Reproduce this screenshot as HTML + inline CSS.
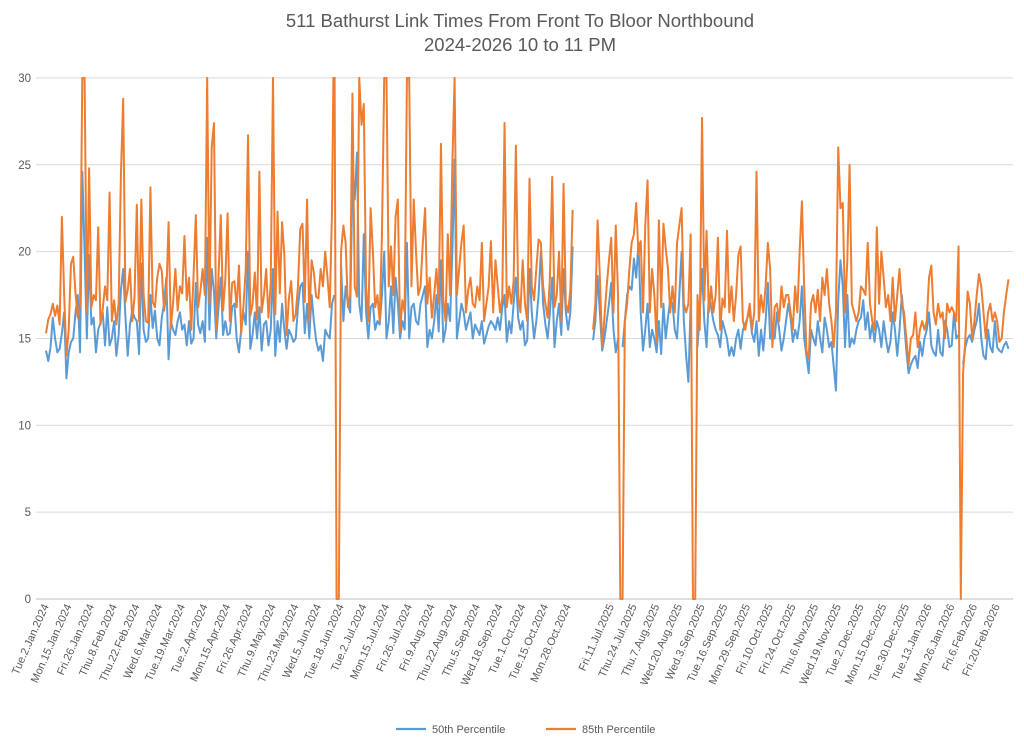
<!DOCTYPE html>
<html><head><meta charset="utf-8">
<style>
body{margin:0;background:#fff;}
svg{display:block;font-family:"Liberation Sans",sans-serif;}
</style></head>
<body>
<svg id="chart" width="1024" height="743" viewBox="0 0 1024 743">
<text x="520" y="27" text-anchor="middle" font-size="18.5" fill="#595959">511 Bathurst Link Times From Front To Bloor Northbound</text>
<text x="520" y="51" text-anchor="middle" font-size="18.5" fill="#595959">2024-2026 10 to 11 PM</text>
<defs><clipPath id="plotclip"><rect x="36" y="77" width="980" height="530"/></clipPath></defs>
<g id="grid"></g><g id="yticks"></g><g id="xticks"></g>
<g id="series" clip-path="url(#plotclip)"></g>
<g>
<line x1="396" y1="729" x2="426" y2="729" stroke="#5B9BD5" stroke-width="2.2"/>
<text x="432" y="733" font-size="11" fill="#595959">50th Percentile</text>
<line x1="546" y1="729" x2="576" y2="729" stroke="#ED7D31" stroke-width="2.2"/>
<text x="582" y="733" font-size="11" fill="#595959">85th Percentile</text>
</g>
</svg>
<script>
const yTicks=[0,5,10,15,20,25,30];
const labels2024=["Tue.2.Jan.2024","Mon.15.Jan.2024","Fri.26.Jan.2024","Thu.8.Feb.2024","Thu.22.Feb.2024","Wed.6.Mar.2024","Tue.19.Mar.2024","Tue.2.Apr.2024","Mon.15.Apr.2024","Fri.26.Apr.2024","Thu.9.May.2024","Thu.23.May.2024","Wed.5.Jun.2024","Tue.18.Jun.2024","Tue.2.Jul.2024","Mon.15.Jul.2024","Fri.26.Jul.2024","Fri.9.Aug.2024","Thu.22.Aug.2024","Thu.5.Sep.2024","Wed.18.Sep.2024","Tue.1.Oct.2024","Tue.15.Oct.2024","Mon.28.Oct.2024"];
const labels2025=["Fri.11.Jul.2025","Thu.24.Jul.2025","Thu.7.Aug.2025","Wed.20.Aug.2025","Wed.3.Sep.2025","Tue.16.Sep.2025","Mon.29.Sep.2025","Fri.10.Oct.2025","Fri.24.Oct.2025","Thu.6.Nov.2025","Wed.19.Nov.2025","Tue.2.Dec.2025","Mon.15.Dec.2025","Tue.30.Dec.2025","Tue.13.Jan.2026","Mon.26.Jan.2026","Fri.6.Feb.2026","Fri.20.Feb.2026"];
const p85_2024=[15.3,16.1,16.4,17.0,16.3,16.9,15.8,22.0,17.5,14.0,
15.5,19.3,19.7,17.6,16.2,17.0,30,30,16.5,24.8,
16.8,17.5,17.2,21.4,15.8,16.7,18.0,17.2,23.4,16.0,
17.2,15.8,17.0,24.4,28.8,17.1,17.8,19.0,16.0,17.4,
22.7,16.0,23.0,17.5,16.0,15.9,23.7,17.1,16.8,18.5,
19.3,18.9,16.6,17.5,21.7,15.6,17.1,19.0,16.6,18.0,
17.6,20.9,17.2,18.5,15.5,18.6,22.1,16.8,17.7,19.0,
17.5,30,17.0,26.0,27.4,15.5,18.6,22.1,16.6,18.4,
22.2,16.0,18.2,18.3,16.8,19.2,15.3,16.9,19.0,26.7,
16.3,17.0,18.8,16.1,24.6,16.5,17.5,19.0,16.2,18.2,
30,16.4,22.3,17.6,21.7,19.8,15.2,17.3,18.3,16.0,
16.4,18.0,21.3,21.6,17.1,23.0,16.0,19.5,18.8,17.4,
17.3,19.0,18.0,20.0,18.5,16.8,22.4,35,0,0,
20.0,21.5,20.5,16.8,17.5,29.1,18.0,17.4,30,27.3,
28.5,18.0,16.0,22.5,20.0,16.8,17.5,16.0,21.0,30,
30,18.0,20.3,17.5,22.0,23.0,15.4,17.2,16.5,30,
30,18.0,23.0,20.0,17.5,18.0,20.5,22.5,17.0,18.5,
16.2,17.5,19.0,17.0,26.2,17.3,16.0,21.0,17.5,25.0,
30,17.5,19.0,20.5,21.5,16.5,17.8,18.5,17.0,16.8,
18.0,17.2,20.5,16.0,17.0,18.0,20.6,16.5,19.5,18.0,
16.5,17.3,27.4,16.8,18.0,17.0,18.3,26.1,17.5,16.5,
19.5,17.0,16.0,24.2,18.0,17.2,19.0,20.7,20.5,18.0,
17.0,16.2,18.5,24.3,16.8,17.5,20.0,16.0,23.9,17.0,
16.5,17.8,22.4];
const p50_2024=[14.3,13.7,14.5,16.2,15.0,14.2,14.4,15.3,16.5,12.7,
14.2,14.8,15.0,16.5,17.5,14.2,24.6,20.0,15.0,19.8,
15.8,16.2,14.2,15.5,15.9,16.5,14.6,16.8,14.6,15.0,
16.0,14.0,15.2,17.8,19.0,16.2,14.0,15.8,16.6,16.2,
16.0,14.1,19.3,15.5,14.8,15.0,17.5,15.6,16.6,15.0,
14.6,16.2,17.0,18.5,13.8,16.0,15.5,15.2,16.0,16.5,
15.5,15.8,14.6,16.0,14.7,15.0,18.2,15.8,15.3,16.0,
14.8,20.8,15.5,19.0,17.7,15.0,16.8,18.5,15.2,16.0,
15.2,15.3,16.8,17.0,15.0,14.2,15.5,16.5,15.8,20.0,
14.4,15.2,16.5,15.0,16.8,14.3,15.8,16.0,14.6,15.5,
19.0,14.0,16.0,14.8,17.0,15.5,14.4,15.5,15.2,14.8,
15.0,16.8,18.0,18.2,15.3,17.0,15.0,17.5,16.0,14.9,
14.3,14.6,13.7,15.5,15.2,15.0,17.0,17.5,null,null,
19.2,16.0,18.0,17.0,16.5,24.0,23.0,25.7,17.0,16.0,
21.0,16.5,15.0,16.8,17.0,15.5,16.0,15.8,17.5,20.0,
15.0,16.0,18.0,15.3,18.5,17.0,15.0,16.0,15.5,20.5,
15.0,16.8,17.0,16.0,15.8,17.0,17.5,18.0,14.5,15.5,
15.0,16.0,17.5,15.4,19.5,14.8,15.5,17.0,16.0,20.0,
25.3,15.0,16.0,17.0,16.5,15.5,16.0,16.5,15.0,15.8,
15.5,15.2,16.0,14.7,15.2,15.7,16.0,15.8,15.5,16.2,
15.5,16.8,17.5,14.8,16.0,15.3,17.0,18.5,16.2,15.5,
16.0,14.6,14.9,19.0,16.5,15.0,16.0,17.5,20.0,17.0,
15.8,15.0,16.5,18.5,14.5,16.0,17.0,15.2,19.0,16.5,
15.5,16.5,20.3];
const gapCount=8;
const p85_2025=[15.5,17.0,21.8,18.5,14.5,16.2,18.0,19.5,20.8,16.5,
21.5,17.5,0,0,16.0,17.0,19.0,20.5,21.0,22.8,
19.8,20.6,16.5,21.5,24.1,16.5,19.0,17.5,14.8,21.8,
16.8,21.6,20.2,19.0,16.5,18.0,16.5,20.5,21.5,22.5,
17.0,16.5,17.0,21.0,0,0,17.5,15.5,27.7,17.2,
21.2,16.5,18.0,16.5,17.5,20.8,15.5,17.3,16.8,21.2,
16.5,18.0,16.0,17.5,19.8,20.3,16.0,15.5,16.2,17.0,
15.5,16.5,24.6,16.0,17.5,16.5,18.0,20.5,19.0,14.5,
16.8,17.0,16.0,18.0,16.8,17.5,17.5,16.5,15.5,18.0,
16.5,20.0,22.9,18.0,14.3,13.8,17.0,17.5,16.5,17.8,
16.0,18.5,17.5,19.0,17.0,16.0,14.5,16.5,26.0,22.5,
22.8,16.5,19.5,25.0,17.0,16.5,16.0,16.5,18.0,17.8,
17.5,20.5,17.0,16.0,15.5,21.4,17.0,20.0,18.5,16.8,
17.5,16.0,18.5,16.0,17.5,19.0,17.0,16.5,15.0,13.5,
15.0,15.2,16.5,14.5,15.5,16.0,15.5,16.0,18.5,19.2,
16.5,15.8,17.0,16.2,16.5,15.0,17.0,16.5,16.8,16.5,
16.0,20.3,0,13.0,15.0,17.7,17.0,15.0,16.0,17.5,
18.7,18.0,16.5,15.0,16.5,17.0,16.0,16.5,16.0,14.8,
15.0,16.5,17.5,18.4];
const p50_2025=[14.9,16.0,18.6,16.5,14.3,15.0,16.0,17.0,18.2,15.5,
14.2,15.0,null,14.5,16.0,17.5,18.0,17.8,19.6,18.5,
20.5,16.5,14.3,15.5,17.0,14.5,15.5,15.0,14.2,16.0,
14.1,17.0,15.0,16.2,17.2,17.0,15.5,15.0,17.5,20.0,
16.0,14.0,12.5,17.0,null,null,14.5,16.5,19.0,16.0,
14.5,17.5,16.8,16.0,15.5,15.2,14.5,16.0,15.5,15.0,
14.0,14.5,14.0,15.0,15.5,14.4,15.5,15.8,16.2,16.5,
15.3,14.8,16.0,14.0,15.5,14.3,16.0,18.2,15.0,15.0,
15.0,16.5,15.5,14.3,15.0,16.0,17.0,16.2,14.8,15.5,
15.0,16.0,18.0,15.0,14.0,13.0,15.5,15.0,14.6,16.0,
15.0,14.2,16.2,15.5,14.5,14.8,13.4,12.0,17.2,19.5,
18.0,14.5,17.5,14.5,15.0,14.7,15.5,16.0,16.2,17.2,
15.5,16.5,15.0,15.8,14.8,16.0,15.5,14.5,16.0,15.0,
14.2,14.8,16.5,15.5,14.0,15.5,17.5,16.0,14.3,13.0,
13.5,13.8,14.0,13.3,14.8,14.0,15.0,15.5,16.5,14.6,
14.2,14.0,15.5,14.2,14.0,16.0,15.5,14.5,14.6,16.5,
15.0,15.2,null,13.5,14.5,15.0,15.2,14.8,15.5,16.0,
17.0,15.0,14.0,13.8,15.5,14.5,14.2,16.0,14.5,14.3,
14.2,14.6,14.8,14.4];
const labelEvery=10;
const firstLabel2025Idx=249;

const NS="http://www.w3.org/2000/svg";
const X0=46, DX=2.27, Y0=599, YS=17.37;
function xScale(i){return X0+i*DX;}
function yScale(v){return Y0-v*YS;}
function mk(tag,attrs,parent){const e=document.createElementNS(NS,tag);for(const k in attrs)e.setAttribute(k,attrs[k]);parent.appendChild(e);return e;}

const grid=document.getElementById('grid'), yt=document.getElementById('yticks');
yTicks.forEach(v=>{
  const l=mk('line',{x1:36,x2:1013,y1:yScale(v),y2:yScale(v),stroke:v===0?'#bfbfbf':'#d9d9d9','stroke-width':1},grid);
  
  
  const t=mk('text',{x:31,y:yScale(v)+4,'text-anchor':'end','font-size':11.5,fill:'#595959'},yt);
  t.textContent=v;
  
  
});

const xt=document.getElementById('xticks');
function addLabel(s,idx){
  const x=xScale(idx)+3, y=606;
  const t=mk('text',{x:x,y:y,'text-anchor':'end','font-size':11,fill:'#595959',transform:`rotate(-66 ${x} ${y})`},xt);
  t.textContent=s;
  
  
}
labels2024.forEach((s,k)=>addLabel(s,k*labelEvery));
labels2025.forEach((s,k)=>addLabel(s,firstLabel2025Idx+k*labelEvery));

const gap=new Array(gapCount).fill(null);
const p50=p50_2024.concat(gap,p50_2025);
const p85=p85_2024.concat(gap,p85_2025);
const ser=document.getElementById('series');
function drawSeries(vals,color,name){
  let d='',pen=false;
  vals.forEach((v,i)=>{
    if(v===null||v===undefined){pen=false;return;}
    d+=(pen?'L':'M')+xScale(i).toFixed(2)+' '+yScale(v).toFixed(2)+' ';
    pen=true;
  });
  const p=mk('path',{d:d,fill:'none',stroke:color,'stroke-width':2,'stroke-linejoin':'round'},ser);
  
  
}
drawSeries(p50,'#5B9BD5','series-50th-percentile');
drawSeries(p85,'#ED7D31','series-85th-percentile');
</script>
</body></html>
